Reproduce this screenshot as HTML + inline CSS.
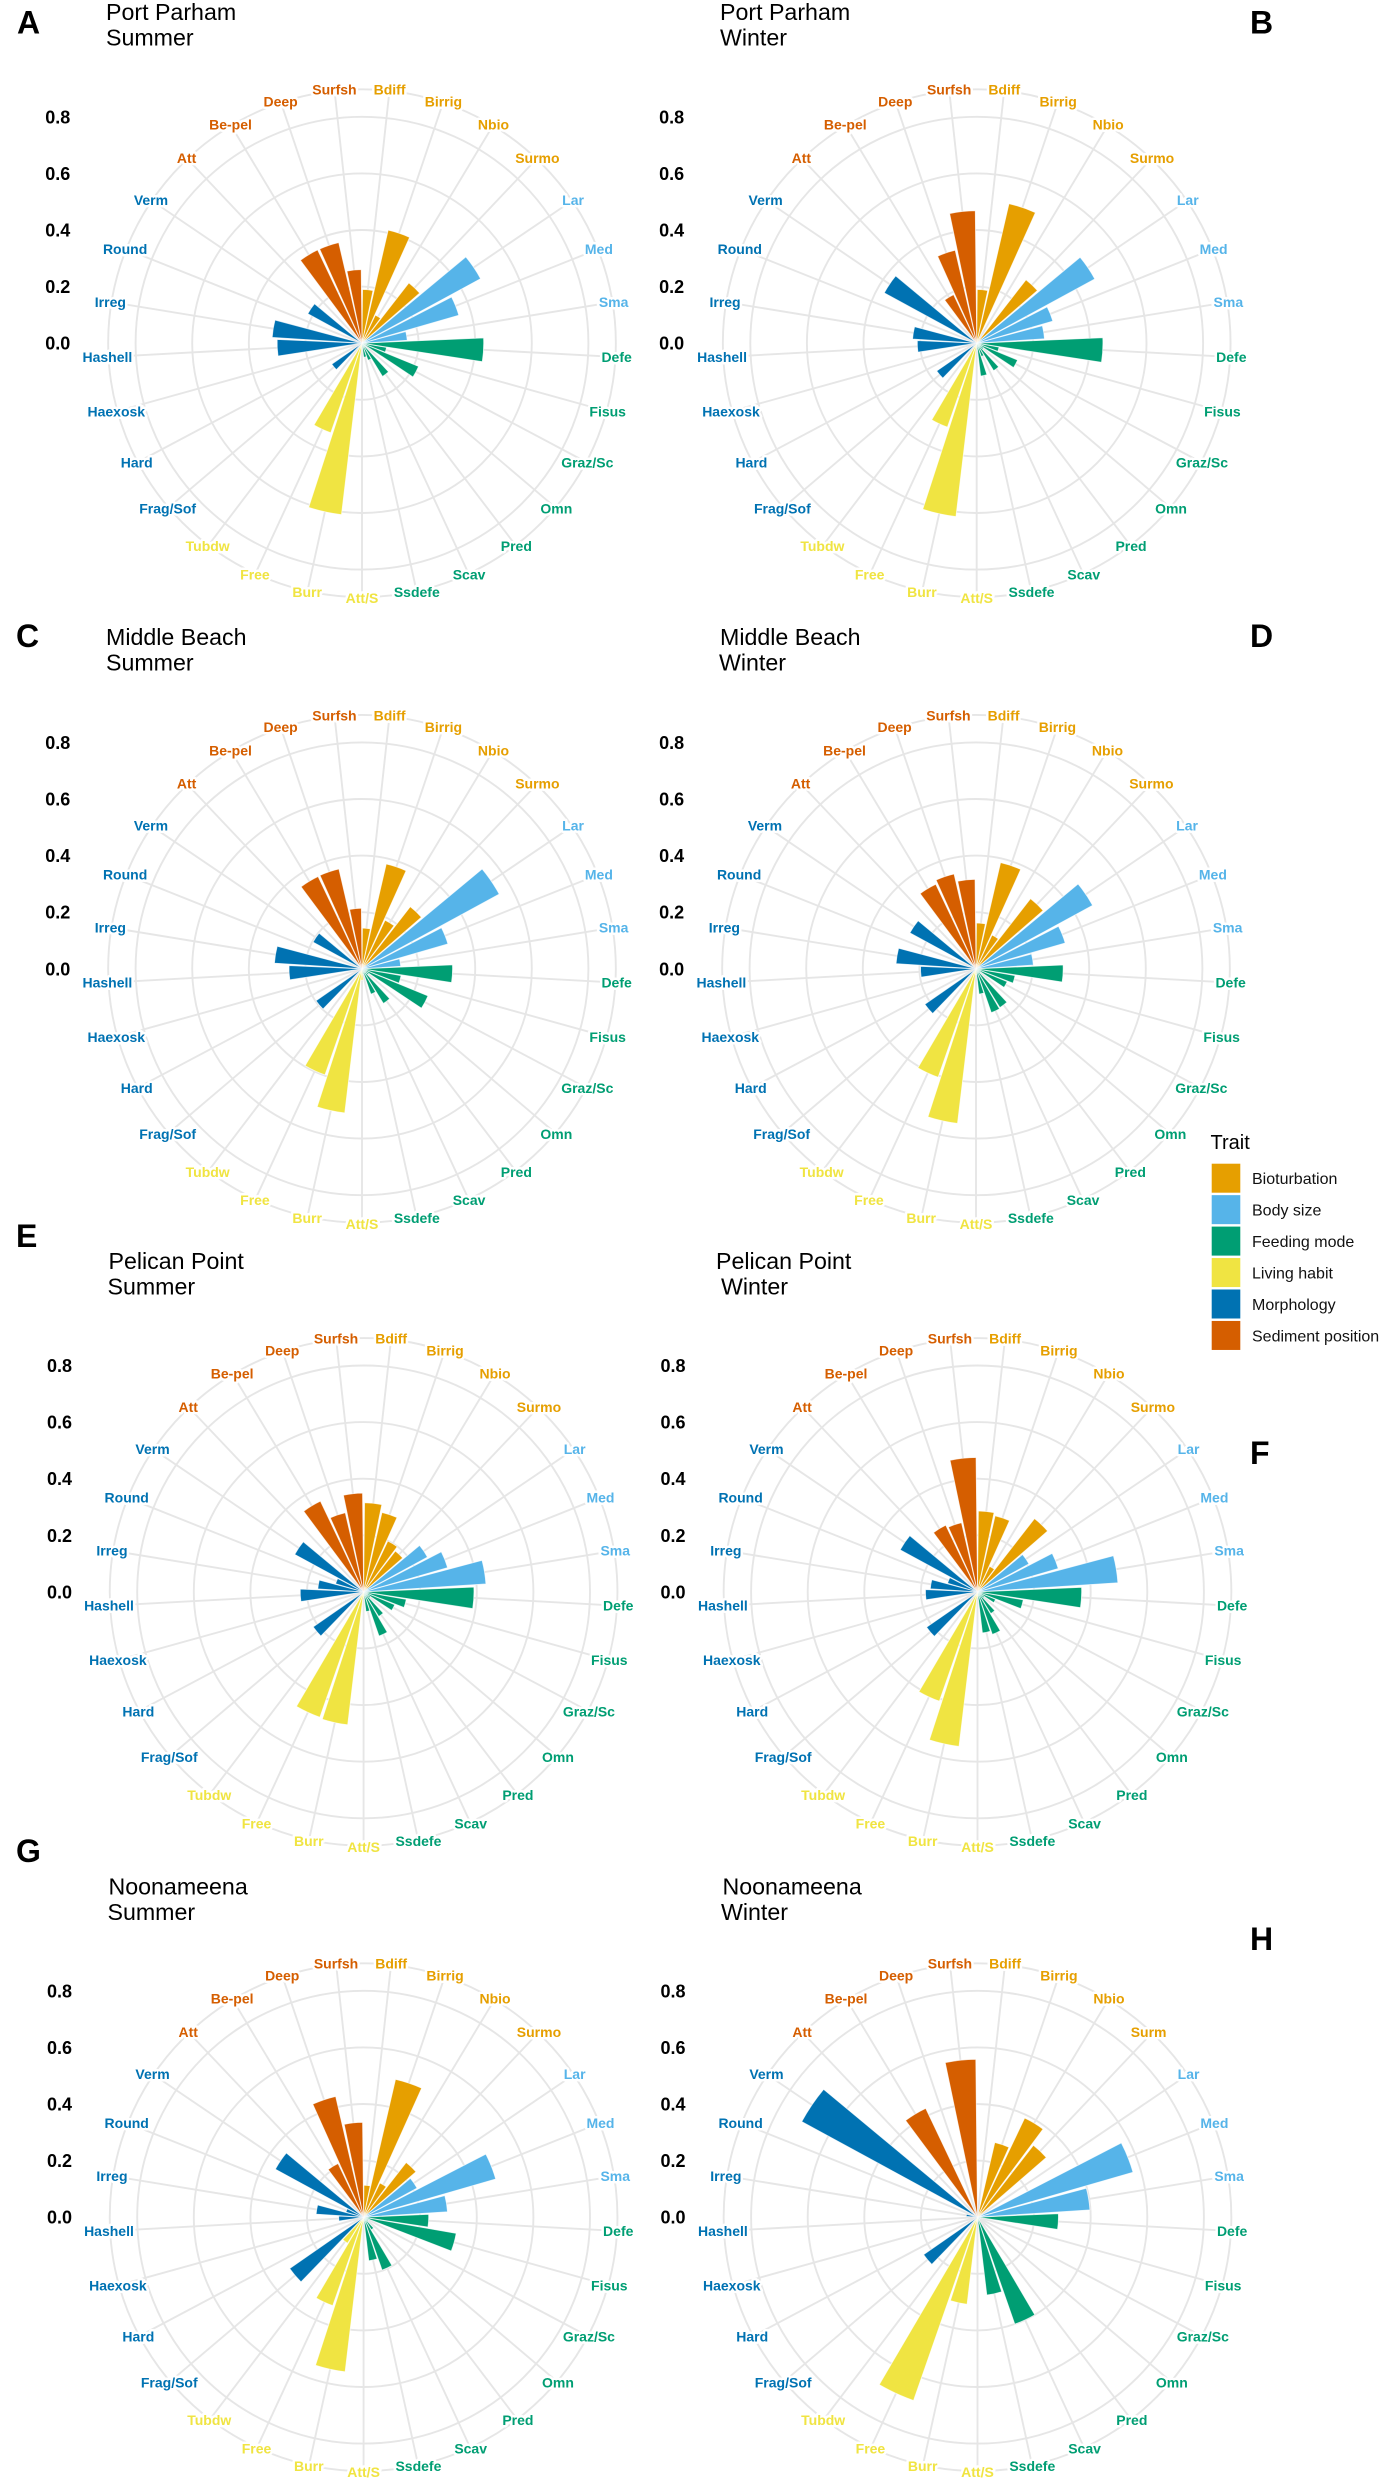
<!DOCTYPE html>
<html lang="en">
<head>
<meta charset="utf-8">
<title>Trait polar charts</title>
<style>
html,body{margin:0;padding:0;background:#fff;}
svg{display:block;font-family:"Liberation Sans",Arial,sans-serif;}
.title{font-size:23.2px;fill:#000;}
.letter{font-size:32px;font-weight:bold;fill:#000;}
.legend-label{font-size:16px;fill:#111;}
.legend-title{font-size:20px;fill:#000;}
.cat{font-size:14px;font-weight:bold;text-anchor:middle;dominant-baseline:central;paint-order:stroke;stroke:#fff;stroke-width:5px;stroke-linejoin:round;}
.tick{font-size:18px;font-weight:bold;text-anchor:end;fill:#000;}
</style>
</head>
<body>
<svg id="chart" xmlns="http://www.w3.org/2000/svg" width="1383" height="2481" viewBox="0 0 1383 2481">
<rect x="0" y="0" width="1383" height="2481" fill="#fff"/>
<g id="panels"></g>

<text class="letter" x="17" y="33.6">A</text>
<text class="letter" x="1250" y="33.6">B</text>
<text class="letter" x="16" y="647">C</text>
<text class="letter" x="1250" y="647">D</text>
<text class="letter" x="16" y="1247">E</text>
<text class="letter" x="1250" y="1464">F</text>
<text class="letter" x="16" y="1862">G</text>
<text class="letter" x="1250" y="1950">H</text>

<text class="title" x="106" y="19.8">Port Parham</text>
<text class="title" x="106" y="45.5">Summer</text>
<text class="title" x="720" y="19.8">Port Parham</text>
<text class="title" x="720" y="45.5">Winter</text>
<text class="title" x="106" y="644.9">Middle Beach</text>
<text class="title" x="106" y="670.6">Summer</text>
<text class="title" x="720" y="644.9">Middle Beach</text>
<text class="title" x="719" y="670.6">Winter</text>
<text class="title" x="108.5" y="1268.9">Pelican Point</text>
<text class="title" x="107.5" y="1294.4">Summer</text>
<text class="title" x="716" y="1268.9">Pelican Point</text>
<text class="title" x="721" y="1294.4">Winter</text>
<text class="title" x="108.5" y="1894.5">Noonameena</text>
<text class="title" x="107.5" y="1920.2">Summer</text>
<text class="title" x="722.5" y="1894.5">Noonameena</text>
<text class="title" x="721" y="1920.2">Winter</text>

<g id="masks">
<rect x="1187" y="1752" width="8" height="5" fill="#fff"/>
<rect x="1147" y="1789" width="4" height="4" fill="#fff"/>
<rect x="1166" y="2025" width="20" height="21" fill="#fff"/>
</g>

<g id="legend">
<text class="legend-title" x="1210.5" y="1149">Trait</text>
</g>
</svg>
<script>
// Shared chart data
var categories = ["Bdiff","Birrig","Nbio","Surmo","Lar","Med","Sma","Defe","Fisus","Graz/Sc","Omn","Pred","Scav","Ssdefe","Att/S","Burr","Free","Tubdw","Frag/Sof","Hard","Haexosk","Hashell","Irreg","Round","Verm","Att","Be-pel","Deep","Surfsh"];
var categoryTrait = [0,0,0,0,1,1,1,2,2,2,2,2,2,2,3,3,3,3,4,4,4,4,4,4,4,5,5,5,5];
var traitNames = ["Bioturbation","Body size","Feeding mode","Living habit","Morphology","Sediment position"];
var traitColors = ["#E69F00","#56B4E9","#009E73","#F0E442","#0072B2","#D55E00"];
var tickValues = [0,0.2,0.4,0.6,0.8];
var tickLabels = ["0.0","0.2","0.4","0.6","0.8"];
var ringValues = [0.2,0.4,0.6,0.8,0.897];

// Series values: one entry per category, in the order above
var portParhamSummer   = [.19,.41,.11,.27,.477,.356,.16,.43,.088,.216,0,.138,.064,.05,0,.61,.335,0,.13,0,0,.30,.318,0,.218,0,.365,.365,.26];
var portParhamWinter   = [.19,.506,.02,.284,.475,.28,.24,.446,.08,.156,.03,.114,.05,.117,0,.617,.314,0,.172,0,0,.21,.227,0,.372,0,.19,.337,.468];
var middleBeachSummer  = [.144,.38,.19,.278,.552,.316,.137,.32,.14,.252,.03,.144,.095,.02,.04,.513,.397,0,.198,0,0,.258,.31,0,.197,0,.361,.362,.214];
var middleBeachWinter  = [.162,.385,.132,.314,.469,.328,.203,.308,.14,.119,.02,.161,.164,.09,.02,.55,.406,0,.22,0,0,.196,.283,0,.266,0,.331,.344,.316];
var pelicanPointSummer = [.315,.288,.199,.183,.257,.309,.433,.39,.153,.119,.03,.102,.165,.07,.02,.473,.469,0,.217,0,0,.224,.162,.103,.277,0,.355,.287,.349];
var pelicanPointWinter = [.286,.276,.1,.328,.207,.297,.497,.368,.164,.069,.03,.09,.159,.146,.02,.55,.409,0,.219,0,0,.184,.167,.11,.311,0,.261,.251,.475];
var noonameenaSummer   = [.113,.5,.134,.245,.215,.486,.297,.23,.332,.02,.02,.052,.198,.155,.02,.55,.331,.108,.318,0,0,.088,.168,.065,.355,0,.21,.438,.335];
var noonameenaWinter   = [0,.271,.388,.322,0,.572,.398,.286,.01,.01,0,.01,.4,.277,.01,.31,.686,0,.232,0,0,0,.04,0,.707,0,.426,0,.558];

var NS = "http://www.w3.org/2000/svg";
var RADIUS_PER_UNIT = 283;
var BAR_WIDTH = 0.9;
var LABEL_RADIUS = 255;
var GRID_COLOR = "#e6e6e6";
var GRID_WIDTH = 1.9;

function rScale(v){ return v * RADIUS_PER_UNIT; }
function thetaScale(i){ return (i + 0.5) * 2 * Math.PI / categories.length; }
function px(cx, r, t){ return cx + r * Math.sin(t); }
function py(cy, r, t){ return cy - r * Math.cos(t); }
function make(tag, attrs, parent){
  var el = document.createElementNS(NS, tag);
  for (var k in attrs) el.setAttribute(k, attrs[k]);
  parent.appendChild(el);
  return el;
}

function drawPanel(key, values, cx, cy, tickRight){
  var root = document.getElementById("panels");
  var g = make("g", {}, root);
  
  

  ringValues.forEach(function(v){
    var ring = make("circle", {cx:cx, cy:cy, r:rScale(v), fill:"none", stroke:GRID_COLOR, "stroke-width":GRID_WIDTH}, g);
    
    
  });

  var outer = rScale(ringValues[ringValues.length - 1]);
  categories.forEach(function(c, i){
    var t = thetaScale(i);
    var spoke = make("line", {x1:cx, y1:cy, x2:px(cx, outer, t), y2:py(cy, outer, t), stroke:GRID_COLOR, "stroke-width":GRID_WIDTH}, g);
    
    
  });

  var half = (BAR_WIDTH / 2) * 2 * Math.PI / categories.length;
  values.forEach(function(v, i){
    if (v <= 0) return;
    var t = thetaScale(i), r = rScale(v);
    var d = "M" + cx + " " + cy +
      "L" + px(cx, r, t - half).toFixed(2) + " " + py(cy, r, t - half).toFixed(2) +
      "A" + r.toFixed(2) + " " + r.toFixed(2) + " 0 0 1 " + px(cx, r, t + half).toFixed(2) + " " + py(cy, r, t + half).toFixed(2) + "Z";
    var bar = make("path", {d:d, fill:traitColors[categoryTrait[i]], stroke:"#fff", "stroke-width":0.8, "stroke-opacity":0.75}, g);
    
    
  });

  categories.forEach(function(c, i){
    var t = thetaScale(i);
    var label = make("text", {"class":"cat", x:px(cx, LABEL_RADIUS, t).toFixed(2), y:py(cy, LABEL_RADIUS, t).toFixed(2), fill:traitColors[categoryTrait[i]]}, g);
    label.textContent = c;
    
    
  });

  tickValues.forEach(function(v, i){
    var tick = make("text", {"class":"tick", x:tickRight, y:(cy - rScale(v) + 6.5).toFixed(2)}, g);
    tick.textContent = tickLabels[i];
    
    
  });
}

drawPanel("a", portParhamSummer, 362, 343.2, 70.3);
drawPanel("b", portParhamWinter, 976.7, 343.2, 684.2);
drawPanel("c", middleBeachSummer, 362, 968.8, 70.3);
drawPanel("d", middleBeachWinter, 976, 968.8, 684.2);
drawPanel("e", pelicanPointSummer, 363.6, 1591.9, 72);
drawPanel("f", pelicanPointWinter, 977.5, 1591.9, 685.5);
drawPanel("g", noonameenaSummer, 363.6, 2217.2, 72);
drawPanel("h", noonameenaWinter, 977.5, 2217.2, 685.5);

// keep clip patches above the labels
var svgRoot = document.getElementById("chart");
svgRoot.appendChild(document.getElementById("masks"));

var legendGroup = document.getElementById("legend");
traitNames.forEach(function(name, i){
  var key = make("rect", {x:1211.7, y:1163.7 + i * 31.45, width:28.6, height:29, fill:traitColors[i]}, legendGroup);
  
  
  var label = make("text", {"class":"legend-label", x:1252, y:1184 + i * 31.45}, legendGroup);
  label.textContent = name;
  
  
});
</script>
</body>
</html>
